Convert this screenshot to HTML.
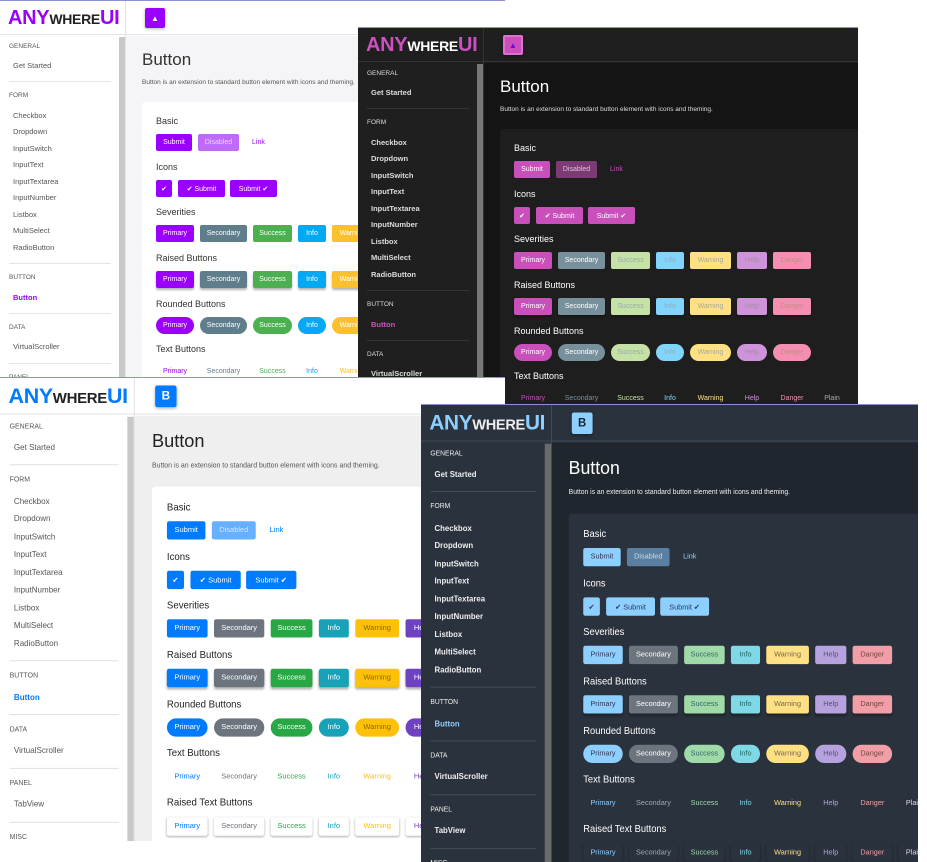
<!DOCTYPE html>
<html><head><meta charset="utf-8">
<style>
*{box-sizing:border-box;margin:0;padding:0}
html,body{width:927px;height:862px;overflow:hidden}
body{background:#fff;position:relative;font-family:"Liberation Sans",sans-serif}
#root{position:absolute;left:0;top:0;width:927px;height:862px;overflow:hidden}
.win{position:absolute;overflow:hidden;border-top:1px solid #8f8fd6}
.inner{position:absolute;left:0;top:0;transform-origin:0 0}
.abs{position:absolute;white-space:nowrap}
.logo{font-weight:bold;letter-spacing:-0.3px}
.btn{position:absolute;height:17px;font-size:7px;display:flex;align-items:center;justify-content:center;border-radius:2px;white-space:nowrap}
</style></head>
<body>
<div id="root"></div>
<script>
const sideHeaders=[["GENERAL",46],["FORM",95],["BUTTON",277],["DATA",327],["PANEL",377],["MISC",427]];
const sideItems=[["Get Started",65],["Checkbox",115],["Dropdown",131],["InputSwitch",148],["InputText",164],["InputTextarea",181],["InputNumber",197],["Listbox",214],["MultiSelect",230],["RadioButton",247],["Button",297],["VirtualScroller",346],["TabView",396]];
const seps=[80,262,312,362,412];
const sevLabels=["Primary","Secondary","Success","Info","Warning","Help","Danger"];
const sevWidths=[38,47,39,28,41,30,38,30];
const sections=[["Basic",121],["Icons",167],["Severities",212],["Raised Buttons",258],["Rounded Buttons",304],["Text Buttons",349],["Raised Text Buttons",395]];

const themes=[
 {name:"light-purple",x:0,y:0,w:505,h:378,sx:1,sy:1,bg:"#fff",main:"#f5f5f7",card:"#fff",text:"#333",sub:"#555",line:"#e4e4ea",accent:"#9900ff",logoDark:"#222",scroll:"#c8c8c8",
  sev:["#9900ff","#607d8b","#4caf50","#03a9f4","#fbc02d","#9c27b0","#d32f2f"],fg:["#fff","#fff","#fff","#fff","#fff","#fff","#fff"],
  txt:["#9900ff","#607d8b","#4caf50","#03a9f4","#fbc02d","#9c27b0","#d32f2f","#555"],dis:"#c06af8",icon:"#9900ff",iconTxt:"▲",iconFg:"#fff",iconBorder:"#9900ff",rtbg:"#fff"},
 {name:"dark-purple",x:358,y:27,w:500,h:378,sx:1,sy:1,bg:"#1f1f1f",main:"#141414",card:"#1e1e1e",text:"#fff",sub:"#ddd",line:"#333",accent:"#ce50c0",logoDark:"#fff",scroll:"#777",
  sev:["#c94fbb","#78909c","#c5e1a5","#81d4fa","#ffe082","#ce93d8","#f48fb1"],fg:["#fff","#fff","#9aa","#9ab","#aa9","#a8a","#c88"],
  txt:["#c94fbb","#78909c","#c5e1a5","#81d4fa","#ffe082","#ce93d8","#f48fb1","#aaa"],dis:"#7d3b76",icon:"#c94fbb",iconTxt:"▲",iconFg:"#7a00e0",iconBorder:"#e070d0",rtbg:"#1e1e1e"},
 {name:"light-blue",x:0,y:377,w:505,h:464,sx:1.07,sy:1.077,bg:"#fff",main:"#efefef",card:"#fff",text:"#222",sub:"#555",line:"#dfe3e8",accent:"#007bff",logoDark:"#222",scroll:"#c8c8c8",
  sev:["#007bff","#6c757d","#28a745","#17a2b8","#ffc107","#6f42c1","#dc3545"],fg:["#fff","#fff","#fff","#fff","#8a6a00","#fff","#fff"],
  txt:["#007bff","#6c757d","#28a745","#17a2b8","#ffc107","#6f42c1","#dc3545","#555"],dis:"#66b0ff",icon:"#007bff",iconTxt:"B",iconFg:"#fff",iconBorder:"#007bff",rtbg:"#fff"},
 {name:"dark-blue",x:421,y:404,w:497,h:458,sx:1.04,sy:1.075,bg:"#2a323d",main:"#20262e",card:"#2a323d",text:"#fff",sub:"#eee",line:"#3f4b5b",accent:"#8dd0ff",logoDark:"#eee",scroll:"#6a6a6a",
  sev:["#8dd0ff","#6c757d","#9fdaa8","#7fd8e6","#ffe082","#b7a2e0","#f19ea6"],fg:["#335","#fff","#366","#266","#765","#556","#744"],
  txt:["#8dd0ff","#9aa","#9fdaa8","#7fd8e6","#ffe082","#b7a2e0","#f19ea6","#ddd"],dis:"#5b7fa0",icon:"#8dd0ff",iconTxt:"B",iconFg:"#123",iconBorder:"#8dd0ff",rtbg:"#2a323d"}
];

const root=document.getElementById('root');
themes.forEach(t=>{
 const win=document.createElement('div');
 
 
 win.className='win';
 win.style.cssText=`left:${t.x}px;top:${t.y}px;width:${t.w}px;height:${t.h}px;background:${t.bg}`;
 const W=t.w/t.sx, H=t.h/t.sy;
 let h=`<div class="inner" style="width:${W}px;height:${H}px;overflow:hidden;transform:scale(${t.sx},${t.sy})">`;
 h+=`<div class="abs" style="left:0;top:0;width:${W}px;height:34px;background:${t.bg};border-bottom:1px solid ${t.line}"></div>`;
 h+=`<div class="abs" style="left:125px;top:0;width:1px;height:${H}px;background:${t.line}"></div>`;
 h+=`<div class="abs logo" style="left:8px;top:6px;font-size:20px;line-height:22px"><span style="color:${t.accent}">ANY</span><span style="color:${t.logoDark};font-size:14px">WHERE</span><span style="color:${t.accent}">UI</span></div>`;
 h+=`<div class="abs" style="left:145px;top:7px;width:20px;height:20px;background:${t.icon};border:2px solid ${t.iconBorder};border-radius:2px;color:${t.iconFg};font-size:${t.iconTxt=='B'?11:8}px;font-weight:bold;display:flex;align-items:center;justify-content:center;box-shadow:0 1px 3px rgba(0,0,0,.3)">${t.iconTxt}</div>`;
 h+=`<div class="abs" style="left:119px;top:36px;width:6px;height:${H}px;background:${t.scroll}"></div>`;
 sideHeaders.forEach(([l,y])=>{h+=`<div class="abs" style="left:9px;top:${y-4}px;font-size:6.5px;color:${t.sub}">${l}</div>`;});
 sideItems.forEach(([l,y])=>{const act=l=="Button";h+=`<div class="abs" style="left:13px;top:${y-5}px;font-size:7.5px;color:${act?t.accent:t.sub};font-weight:${act||t.bg!='#fff'?'bold':'normal'}">${l}</div>`;});
 seps.forEach(y=>{h+=`<div class="abs" style="left:9px;top:${y}px;width:102px;height:1px;background:${t.line}"></div>`;});
 h+=`<div class="abs" style="left:126px;top:35px;width:${W}px;height:${H}px;background:${t.main}"></div>`;
 h+=`<div class="abs" style="left:142px;top:49px;font-size:17px;color:${t.text}">Button</div>`;
 h+=`<div class="abs" style="left:142px;top:78px;font-size:6.5px;color:${t.sub}">Button is an extension to standard button element with icons and theming.</div>`;
 h+=`<div class="abs" style="left:142px;top:101px;width:${W}px;height:${H}px;background:${t.card};border-radius:3px"></div>`;
 sections.forEach(([l,y])=>{h+=`<div class="abs" style="left:156px;top:${y-6}px;font-size:9px;color:${t.text}">${l}</div>`;});
 h+=`<div class="btn" style="left:156px;top:133px;width:36px;background:${t.sev[0]};color:${t.fg[0]}">Submit</div>`;
 h+=`<div class="btn" style="left:198px;top:133px;width:41px;background:${t.dis};color:rgba(255,255,255,.7)">Disabled</div>`;
 h+=`<div class="abs" style="left:252px;top:138px;font-size:7px;color:${t.txt[0]}">Link</div>`;
 h+=`<div class="btn" style="left:156px;top:179px;width:16px;background:${t.sev[0]};color:${t.fg[0]}">✔</div>`;
 h+=`<div class="btn" style="left:178px;top:179px;width:47px;background:${t.sev[0]};color:${t.fg[0]}">✔ Submit</div>`;
 h+=`<div class="btn" style="left:230px;top:179px;width:47px;background:${t.sev[0]};color:${t.fg[0]}">Submit ✔</div>`;
 const rowTops=[224,270,316];
 rowTops.forEach((top,r)=>{
  let x=156;
  sevLabels.forEach((l,i)=>{
   const rad=r==2?'9px':'2px', sh=r==1?'box-shadow:0 2px 2px rgba(0,0,0,.3);':'';
   h+=`<div class="btn" style="left:${x}px;top:${top}px;width:${sevWidths[i]}px;background:${t.sev[i]};color:${t.fg[i]};border-radius:${rad};${sh}">${l}</div>`;
   x+=sevWidths[i]+6;
  });
 });
 [362,408].forEach((top,r)=>{
  let x=156;
  sevLabels.concat(["Plain"]).forEach((l,i)=>{
   const st=r==1?`background:${t.rtbg};box-shadow:0 1px 2px rgba(0,0,0,.3);`:'';
   h+=`<div class="btn" style="left:${x}px;top:${top}px;width:${sevWidths[i]}px;color:${t.txt[i]};${st}">${l}</div>`;
   x+=sevWidths[i]+6;
  });
 });
 h+=`</div>`;
 win.innerHTML=h;
 root.appendChild(win);
});
</script>
</body></html>
